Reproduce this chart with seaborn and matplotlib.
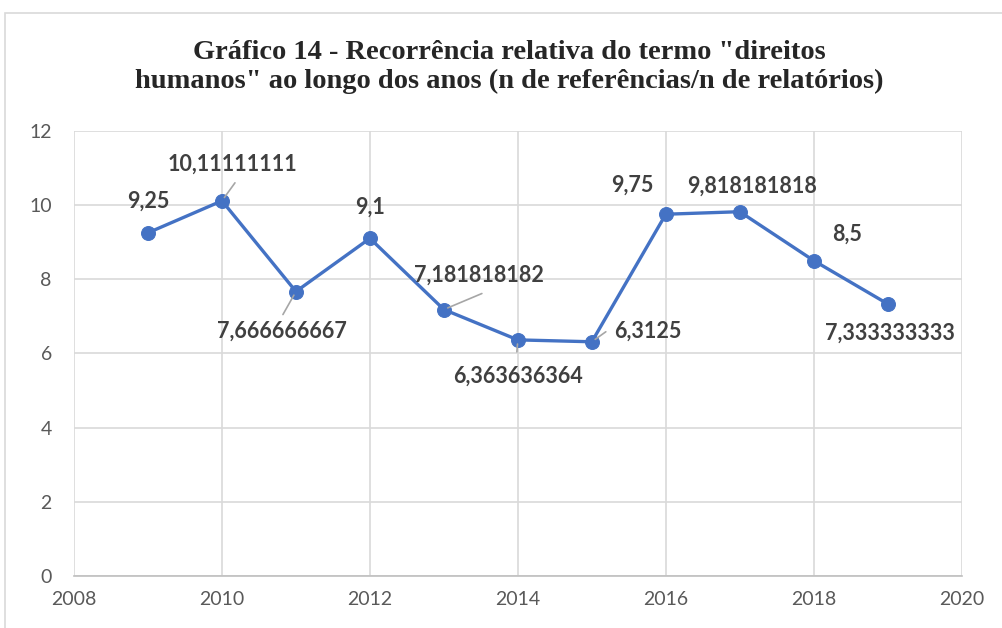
import matplotlib
matplotlib.use("Agg")
import matplotlib.pyplot as plt
import seaborn as sns
import pandas as pd
from matplotlib.patches import Rectangle

years = [2009, 2010, 2011, 2012, 2013, 2014, 2015, 2016, 2017, 2018, 2019]
values = [9.25, 10.11111111, 7.666666667, 9.1, 7.181818182, 6.363636364,
          6.3125, 9.75, 9.818181818, 8.5, 7.333333333]
labels = ["9,25", "10,11111111", "7,666666667", "9,1", "7,181818182", "6,363636364",
          "6,3125", "9,75", "9,818181818", "8,5", "7,333333333"]
x_ticks = [2008, 2010, 2012, 2014, 2016, 2018, 2020]
y_ticks = [0, 2, 4, 6, 8, 10, 12]

# label offsets in pixels (dx, dy) and leader line end (None = no leader)
offsets = [(0, 32), (11, 37), (-14, -40), (0, 31), (35, 34), (0, -36),
           (56, 11), (-33, 29), (12, 26), (33, 26), (2, -29)]
leader_ends = [None, (13, 18), (-13, -23), None, (38, 16), (-1, -12),
               (14, 10), None, None, None, None]

df = pd.DataFrame({"ano": years, "valor": values})

sns.set_style("white")
plt.rcParams["font.family"] = ["Lato", "DejaVu Sans"]

fig = plt.figure(figsize=(10.03, 6.28), dpi=100)
ax = fig.add_axes([0.0738, 0.0828, 0.885, 0.709])

fig.patches.append(Rectangle((5 / 1003, -0.1), 1.2, 1 - 13 / 628 + 0.1,
                             transform=fig.transFigure, fill=False,
                             edgecolor="#d9d9d9", linewidth=1.2))

sns.lineplot(data=df, x="ano", y="valor", ax=ax, color="#4472C4", linewidth=2.4,
             marker="o", markersize=10, markeredgecolor="#4472C4")

for x, y, lab, (dx, dy), end in zip(years, values, labels, offsets, leader_ends):
    ax.annotate(lab, (x, y), xytext=(dx, dy), textcoords="offset pixels",
                ha="center", va="center", fontsize=15.5, fontweight="bold",
                color="#404040")
    if end is not None:
        ax.annotate("", (x, y), xytext=end, textcoords="offset pixels",
                    arrowprops=dict(arrowstyle="-", color="#a6a6a6", lw=1.2,
                                    shrinkA=0, shrinkB=3))

ax.set_xlim(2008, 2020)
ax.set_ylim(0, 12)
ax.set_xticks(x_ticks)
ax.set_yticks(y_ticks)
ax.grid(True, color="#d9d9d9", linewidth=1.2)
ax.set_axisbelow(True)
for s in ["top", "right", "left"]:
    ax.spines[s].set_visible(False)
ax.spines["bottom"].set_color("#bfbfbf")
ax.spines["bottom"].set_linewidth(1.2)
ax.tick_params(axis="both", length=0, labelsize=14, colors="#595959", pad=11)
ax.tick_params(axis="y", pad=16)
ax.set_xlabel("")
ax.set_ylabel("")

fig.text(0.508, 0.893,
         'Gráfico 14 - Recorrência relativa do termo "direitos\n'
         'humanos" ao longo dos anos (n de referências/n de relatórios)',
         ha="center", va="center", fontsize=20.5, fontweight="bold",
         family=["Liberation Serif", "DejaVu Serif"], linespacing=1.22)

fig.savefig("out.png", dpi=100)
